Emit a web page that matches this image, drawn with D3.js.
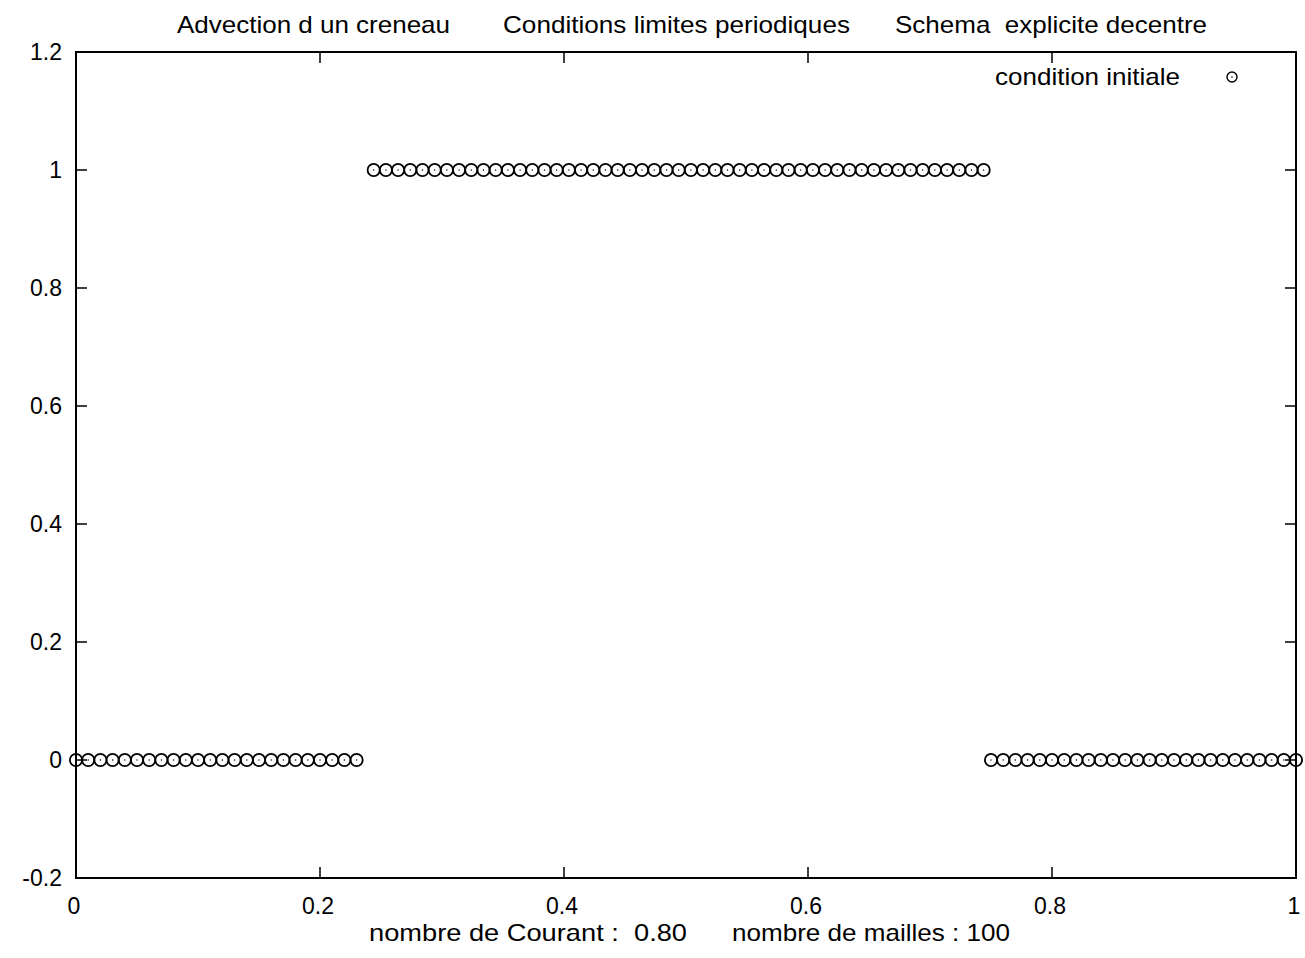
<!DOCTYPE html>
<html>
<head>
<meta charset="utf-8">
<script src="https://cdn.jsdelivr.net/npm/d3@7"></script>
<style>
  html, body { margin: 0; padding: 0; background: #fff; }
  svg { display: block; }
  text { font-family: "Liberation Sans", Arial, Helvetica, sans-serif; fill: #000; }
</style>
</head>
<body>
<svg id="chart" width="1305" height="958"></svg>
<script>
// ---- data ----
const xValues = [
  0, 0.01, 0.02, 0.03, 0.04, 0.05, 0.06, 0.07, 0.08, 0.09, 0.10, 0.11,
  0.12, 0.13, 0.14, 0.15, 0.16, 0.17, 0.18, 0.19, 0.20, 0.21, 0.22, 0.23,
  0.244, 0.254, 0.264, 0.274, 0.284, 0.294, 0.304, 0.314, 0.324, 0.334, 0.344,
  0.354, 0.364, 0.374, 0.384, 0.394, 0.404, 0.414, 0.424, 0.434, 0.444, 0.454,
  0.464, 0.474, 0.484, 0.494, 0.504, 0.514, 0.524, 0.534, 0.544, 0.554, 0.564,
  0.574, 0.584, 0.594, 0.604, 0.614, 0.624, 0.634, 0.644, 0.654, 0.664, 0.674,
  0.684, 0.694, 0.704, 0.714, 0.724, 0.734, 0.744,
  0.75, 0.76, 0.77, 0.78, 0.79, 0.80, 0.81, 0.82, 0.83, 0.84, 0.85, 0.86,
  0.87, 0.88, 0.89, 0.90, 0.91, 0.92, 0.93, 0.94, 0.95, 0.96, 0.97, 0.98,
  0.99, 1.0
];
const yValues = [
  0,0,0,0,0,0,0,0,0,0,0,0,0,0,0,0,0,0,0,0,0,0,0,0,
  1,1,1,1,1,1,1,1,1,1,1,1,1,1,1,1,1,1,1,1,1,1,1,1,1,1,1,1,1,1,1,
  1,1,1,1,1,1,1,1,1,1,1,1,1,1,1,1,1,1,1,1,
  0,0,0,0,0,0,0,0,0,0,0,0,0,0,0,0,0,0,0,0,0,0,0,0,0,0
];
const xTicks = [0, 0.2, 0.4, 0.6, 0.8, 1];
const xTickLabels = ["0", "0.2", "0.4", "0.6", "0.8", "1"];
const yTicks = [-0.2, 0, 0.2, 0.4, 0.6, 0.8, 1, 1.2];
const yTickLabels = ["-0.2", "0", "0.2", "0.4", "0.6", "0.8", "1", "1.2"];
const titleParts = ["Advection d un creneau", "Conditions limites periodiques", "Schema  explicite decentre"];
const footerParts = ["nombre de Courant :  0.80", "nombre de mailles : 100"];
const legendLabel = "condition initiale";

// ---- layout ----
const svg = d3.select("#chart");
const x = d3.scaleLinear().domain([0, 1]).range([76, 1296]);
const y = d3.scaleLinear().domain([-0.2, 1.2]).range([878, 52]);

svg.append("rect").attr("width", 1305).attr("height", 958).attr("fill", "#fff");

// frame
svg.append("rect")
  .attr("x", x(0)).attr("y", y(1.2))
  .attr("width", x(1) - x(0)).attr("height", y(-0.2) - y(1.2))
  .attr("fill", "none").attr("stroke", "#000").attr("stroke-width", 2);

const tickLen = 11;
// x ticks (bottom & top, inward)
const gx = svg.append("g");
xTicks.forEach((t, i) => {
  gx.append("line").attr("x1", x(t)).attr("x2", x(t)).attr("y1", y(-0.2)).attr("y2", y(-0.2) - tickLen)
    .attr("stroke", "#000").attr("stroke-width", 1.5);
  gx.append("line").attr("x1", x(t)).attr("x2", x(t)).attr("y1", y(1.2)).attr("y2", y(1.2) + tickLen)
    .attr("stroke", "#000").attr("stroke-width", 1.5);
  gx.append("text").attr("x", x(t) - 2).attr("y", 914)
    .attr("text-anchor", "middle").attr("font-size", 23).text(xTickLabels[i]);
});
// y ticks (left & right, inward)
const gy = svg.append("g");
yTicks.forEach((t, i) => {
  gy.append("line").attr("x1", x(0)).attr("x2", x(0) + tickLen).attr("y1", y(t)).attr("y2", y(t))
    .attr("stroke", "#000").attr("stroke-width", 1.5);
  gy.append("line").attr("x1", x(1)).attr("x2", x(1) - tickLen).attr("y1", y(t)).attr("y2", y(t))
    .attr("stroke", "#000").attr("stroke-width", 1.5);
  gy.append("text").attr("x", 62).attr("y", y(t) + 8)
    .attr("text-anchor", "end").attr("font-size", 23).text(yTickLabels[i]);
});

// title
const titleX = [177, 503, 895];
const titleW = [273, 347, 312];
titleParts.forEach((s, i) => {
  svg.append("text").attr("x", titleX[i]).attr("y", 33)
    .attr("font-size", 24).attr("textLength", titleW[i]).attr("lengthAdjust", "spacingAndGlyphs")
    .style("white-space", "pre").text(s);
});

// footer
const footX = [369, 732];
const footW = [318, 278];
footerParts.forEach((s, i) => {
  svg.append("text").attr("x", footX[i]).attr("y", 941)
    .attr("font-size", 24).attr("textLength", footW[i]).attr("lengthAdjust", "spacingAndGlyphs")
    .style("white-space", "pre").text(s);
});

// legend
svg.append("text").attr("x", 995).attr("y", 85)
  .attr("font-size", 24).attr("textLength", 185).attr("lengthAdjust", "spacingAndGlyphs")
  .text(legendLabel);
svg.append("circle").attr("cx", 1232).attr("cy", 77).attr("r", 5)
  .attr("fill", "none").attr("stroke", "#000").attr("stroke-width", 1.4);
svg.append("circle").attr("cx", 1232).attr("cy", 77).attr("r", 0.8).attr("fill", "#000");

// points
const data = xValues.map((v, i) => ({ x: v, y: yValues[i] }));
const gp = svg.append("g");
gp.selectAll("circle.pt").data(data).join("circle")
  .attr("class", "pt")
  .attr("cx", d => x(d.x)).attr("cy", d => y(d.y)).attr("r", 6.1)
  .attr("fill", "none").attr("stroke", "#000").attr("stroke-width", 1.8);
gp.selectAll("circle.dot").data(data).join("circle")
  .attr("class", "dot")
  .attr("cx", d => x(d.x)).attr("cy", d => y(d.y)).attr("r", 0.7)
  .attr("fill", "#000");
</script>
</body>
</html>
